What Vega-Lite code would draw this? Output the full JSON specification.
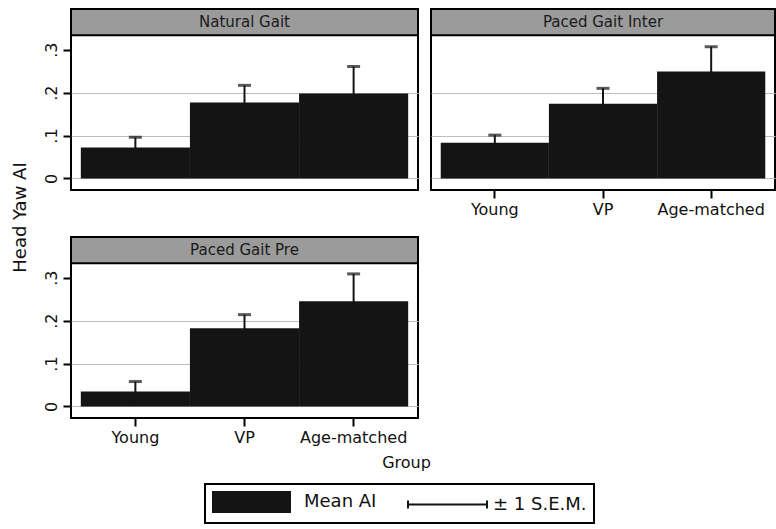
{
  "$schema": "https://vega.github.io/schema/vega-lite/v6.json",
  "background": "white",
  "padding": {"left": 9, "top": 7, "right": 0, "bottom": 0},
  "data": {"values": [
    {"panel": "Natural Gait", "group": "Young", "mean": 0.072, "sem": 0.024},
    {"panel": "Natural Gait", "group": "VP", "mean": 0.177, "sem": 0.040},
    {"panel": "Natural Gait", "group": "Age-matched", "mean": 0.198, "sem": 0.063},
    {"panel": "Paced Gait Inter", "group": "Young", "mean": 0.083, "sem": 0.018},
    {"panel": "Paced Gait Inter", "group": "VP", "mean": 0.174, "sem": 0.036},
    {"panel": "Paced Gait Inter", "group": "Age-matched", "mean": 0.249, "sem": 0.058},
    {"panel": "Paced Gait Pre", "group": "Young", "mean": 0.035, "sem": 0.023},
    {"panel": "Paced Gait Pre", "group": "VP", "mean": 0.182, "sem": 0.032},
    {"panel": "Paced Gait Pre", "group": "Age-matched", "mean": 0.245, "sem": 0.064}
  ]},
  "bounds": "flush",
  "columns": 2,
  "spacing": {"row": 47, "column": 13},
  "concat": [
    {
      "width": 347, "height": 181,
      "transform": [{"filter": "datum.panel == 'Natural Gait'"}],
      "layer": [
        {
          "mark": {"type": "bar", "color": "#141414"},
          "encoding": {
            "x": {"field": "group", "type": "nominal", "sort": ["Young", "VP", "Age-matched"],
                  "scale": {"paddingInner": 0, "paddingOuter": 0.09}, "axis": null},
            "y": {"field": "mean", "type": "quantitative", "title": null,
                  "scale": {"domain": [-0.027, 0.395], "nice": false, "zero": false},
                  "axis": {"values": [0, 0.1, 0.2, 0.3], "labelAngle": -90,
                           "labelExpr": "datum.value == 0 ? '0' : replace(format(datum.value, '.1f'), '0.', '.')",
                           "grid": true, "gridColor": "#bdbdbd", "gridWidth": 1.2,
                           "gridOpacity": {"condition": {"test": "datum.value > 0.25", "value": 0}, "value": 1},
                           "domain": false, "tickSize": 8, "tickWidth": 2, "tickColor": "black",
                           "labelFontSize": 16, "labelPadding": 4}},
            "y2": {"datum": 0},
            "color": {"datum": "Mean AI", "type": "nominal"}
          }
        },
        {
          "mark": {"type": "errorbar", "ticks": {"size": 13, "thickness": 3}, "thickness": 2},
          "encoding": {
            "x": {"field": "group", "type": "nominal", "sort": ["Young", "VP", "Age-matched"]},
            "y": {"field": "mean", "type": "quantitative", "title": null},
            "yError": {"field": "sem"},
            "color": {"datum": "± 1 S.E.M.", "type": "nominal"}
          }
        },
        {
          "transform": [{"filter": "datum.group == 'Young'"}],
          "mark": {"type": "rect", "fill": "#9b9b9b", "stroke": "black", "strokeWidth": 2},
          "encoding": {"y": {"datum": 0.334, "type": "quantitative", "title": null}, "y2": {"datum": 0.395}}
        },
        {
          "transform": [{"filter": "datum.group == 'Young'"}],
          "mark": {"type": "text", "font": "DejaVu Sans", "fontSize": 15, "color": "#1a1a1a"},
          "encoding": {"y": {"datum": 0.3645, "type": "quantitative", "title": null}, "text": {"field": "panel"}}
        }
      ]
    },
    {
      "width": 344, "height": 181,
      "transform": [{"filter": "datum.panel == 'Paced Gait Inter'"}],
      "layer": [
        {
          "mark": {"type": "bar", "color": "#141414"},
          "encoding": {
            "x": {"field": "group", "type": "nominal", "sort": ["Young", "VP", "Age-matched"],
                  "scale": {"paddingInner": 0, "paddingOuter": 0.09},
                  "axis": {"title": null, "labelAngle": 0, "domain": false, "tickSize": 8, "tickWidth": 2,
                           "tickColor": "black", "labelFontSize": 16, "labelPadding": 3}},
            "y": {"field": "mean", "type": "quantitative", "title": null,
                  "scale": {"domain": [-0.027, 0.395], "nice": false, "zero": false},
                  "axis": {"values": [0, 0.1, 0.2, 0.3], "labels": false, "ticks": false,
                           "grid": true, "gridColor": "#bdbdbd", "gridWidth": 1.2,
                           "gridOpacity": {"condition": {"test": "datum.value > 0.25", "value": 0}, "value": 1},
                           "domain": false}},
            "y2": {"datum": 0},
            "color": {"datum": "Mean AI", "type": "nominal"}
          }
        },
        {
          "mark": {"type": "errorbar", "ticks": {"size": 13, "thickness": 3}, "thickness": 2},
          "encoding": {
            "x": {"field": "group", "type": "nominal", "sort": ["Young", "VP", "Age-matched"]},
            "y": {"field": "mean", "type": "quantitative", "title": null},
            "yError": {"field": "sem"},
            "color": {"datum": "± 1 S.E.M.", "type": "nominal"}
          }
        },
        {
          "transform": [{"filter": "datum.group == 'Young'"}],
          "mark": {"type": "rect", "fill": "#9b9b9b", "stroke": "black", "strokeWidth": 2},
          "encoding": {"y": {"datum": 0.334, "type": "quantitative", "title": null}, "y2": {"datum": 0.395}}
        },
        {
          "transform": [{"filter": "datum.group == 'Young'"}],
          "mark": {"type": "text", "font": "DejaVu Sans", "fontSize": 15, "color": "#1a1a1a"},
          "encoding": {"y": {"datum": 0.3645, "type": "quantitative", "title": null}, "text": {"field": "panel"}}
        }
      ]
    },
    {
      "width": 347, "height": 181,
      "transform": [{"filter": "datum.panel == 'Paced Gait Pre'"}],
      "layer": [
        {
          "mark": {"type": "bar", "color": "#141414"},
          "encoding": {
            "x": {"field": "group", "type": "nominal", "sort": ["Young", "VP", "Age-matched"],
                  "scale": {"paddingInner": 0, "paddingOuter": 0.09},
                  "axis": {"title": "Group", "titleX": 335, "labelAngle": 0, "domain": false, "tickSize": 8, "tickWidth": 2,
                           "tickColor": "black", "labelFontSize": 16, "labelPadding": 3,
                           "titleFontSize": 16, "titleFontWeight": "normal", "titlePadding": 9}},
            "y": {"field": "mean", "type": "quantitative", "title": "Head Yaw AI",
                  "scale": {"domain": [-0.027, 0.395], "nice": false, "zero": false},
                  "axis": {"titleY": -20, "values": [0, 0.1, 0.2, 0.3], "labelAngle": -90,
                           "labelExpr": "datum.value == 0 ? '0' : replace(format(datum.value, '.1f'), '0.', '.')",
                           "grid": true, "gridColor": "#bdbdbd", "gridWidth": 1.2,
                           "gridOpacity": {"condition": {"test": "datum.value > 0.25", "value": 0}, "value": 1},
                           "domain": false, "tickSize": 8, "tickWidth": 2, "tickColor": "black",
                           "labelFontSize": 16, "labelPadding": 4,
                           "titleFontSize": 18, "titleFontWeight": "normal", "titlePadding": 14}},
            "y2": {"datum": 0},
            "color": {"datum": "Mean AI", "type": "nominal",
                      "scale": {"domain": ["Mean AI", "± 1 S.E.M."], "range": ["#141414", "#141414"]},
                      "legend": {
                        "orient": "none", "legendX": 134, "legendY": 475,
                        "title": null, "direction": "horizontal", "columns": 2,
                        "labelFontSize": 18, "labelFont": "DejaVu Sans", "labelColor": "#111",
                        "symbolSize": 400, "labelOffset": 70, "columnPadding": 24,
                        "strokeColor": "black", "padding": 7,
                        "encode": {
                          "symbols": {"update": {
                            "shape": {"signal": "datum.value === 'Mean AI' ? 'M-1,-1H6.7V1H-1Z' : 'M-0.4,-0.4V0.4M-0.4,0H7.5M7.5,-0.4V0.4'"},
                            "fill": {"value": "#141414"},
                            "stroke": {"value": "#141414"},
                            "strokeWidth": {"value": 2},
                            "opacity": {"value": 1}
                          }},
                          "legend": {"update": {"strokeWidth": {"value": 2}}}
                        }
                      }}
          }
        },
        {
          "mark": {"type": "errorbar", "ticks": {"size": 13, "thickness": 3}, "thickness": 2},
          "encoding": {
            "x": {"field": "group", "type": "nominal", "sort": ["Young", "VP", "Age-matched"]},
            "y": {"field": "mean", "type": "quantitative", "title": "Head Yaw AI"},
            "yError": {"field": "sem"},
            "color": {"datum": "± 1 S.E.M.", "type": "nominal"}
          }
        },
        {
          "transform": [{"filter": "datum.group == 'Young'"}],
          "mark": {"type": "rect", "fill": "#9b9b9b", "stroke": "black", "strokeWidth": 2},
          "encoding": {"y": {"datum": 0.334, "type": "quantitative", "title": "Head Yaw AI"}, "y2": {"datum": 0.395}}
        },
        {
          "transform": [{"filter": "datum.group == 'Young'"}],
          "mark": {"type": "text", "font": "DejaVu Sans", "fontSize": 15, "color": "#1a1a1a"},
          "encoding": {"y": {"datum": 0.3645, "type": "quantitative", "title": "Head Yaw AI"}, "text": {"field": "panel"}}
        }
      ]
    }
  ],
  "resolve": {"scale": {"color": "shared"}},
  "config": {
    "font": "DejaVu Sans",
    "view": {"stroke": "black", "strokeWidth": 2, "fill": "white"},
    "axis": {"labelColor": "#111", "titleColor": "#111", "labelFont": "DejaVu Sans", "titleFont": "DejaVu Sans"}
  }
}
